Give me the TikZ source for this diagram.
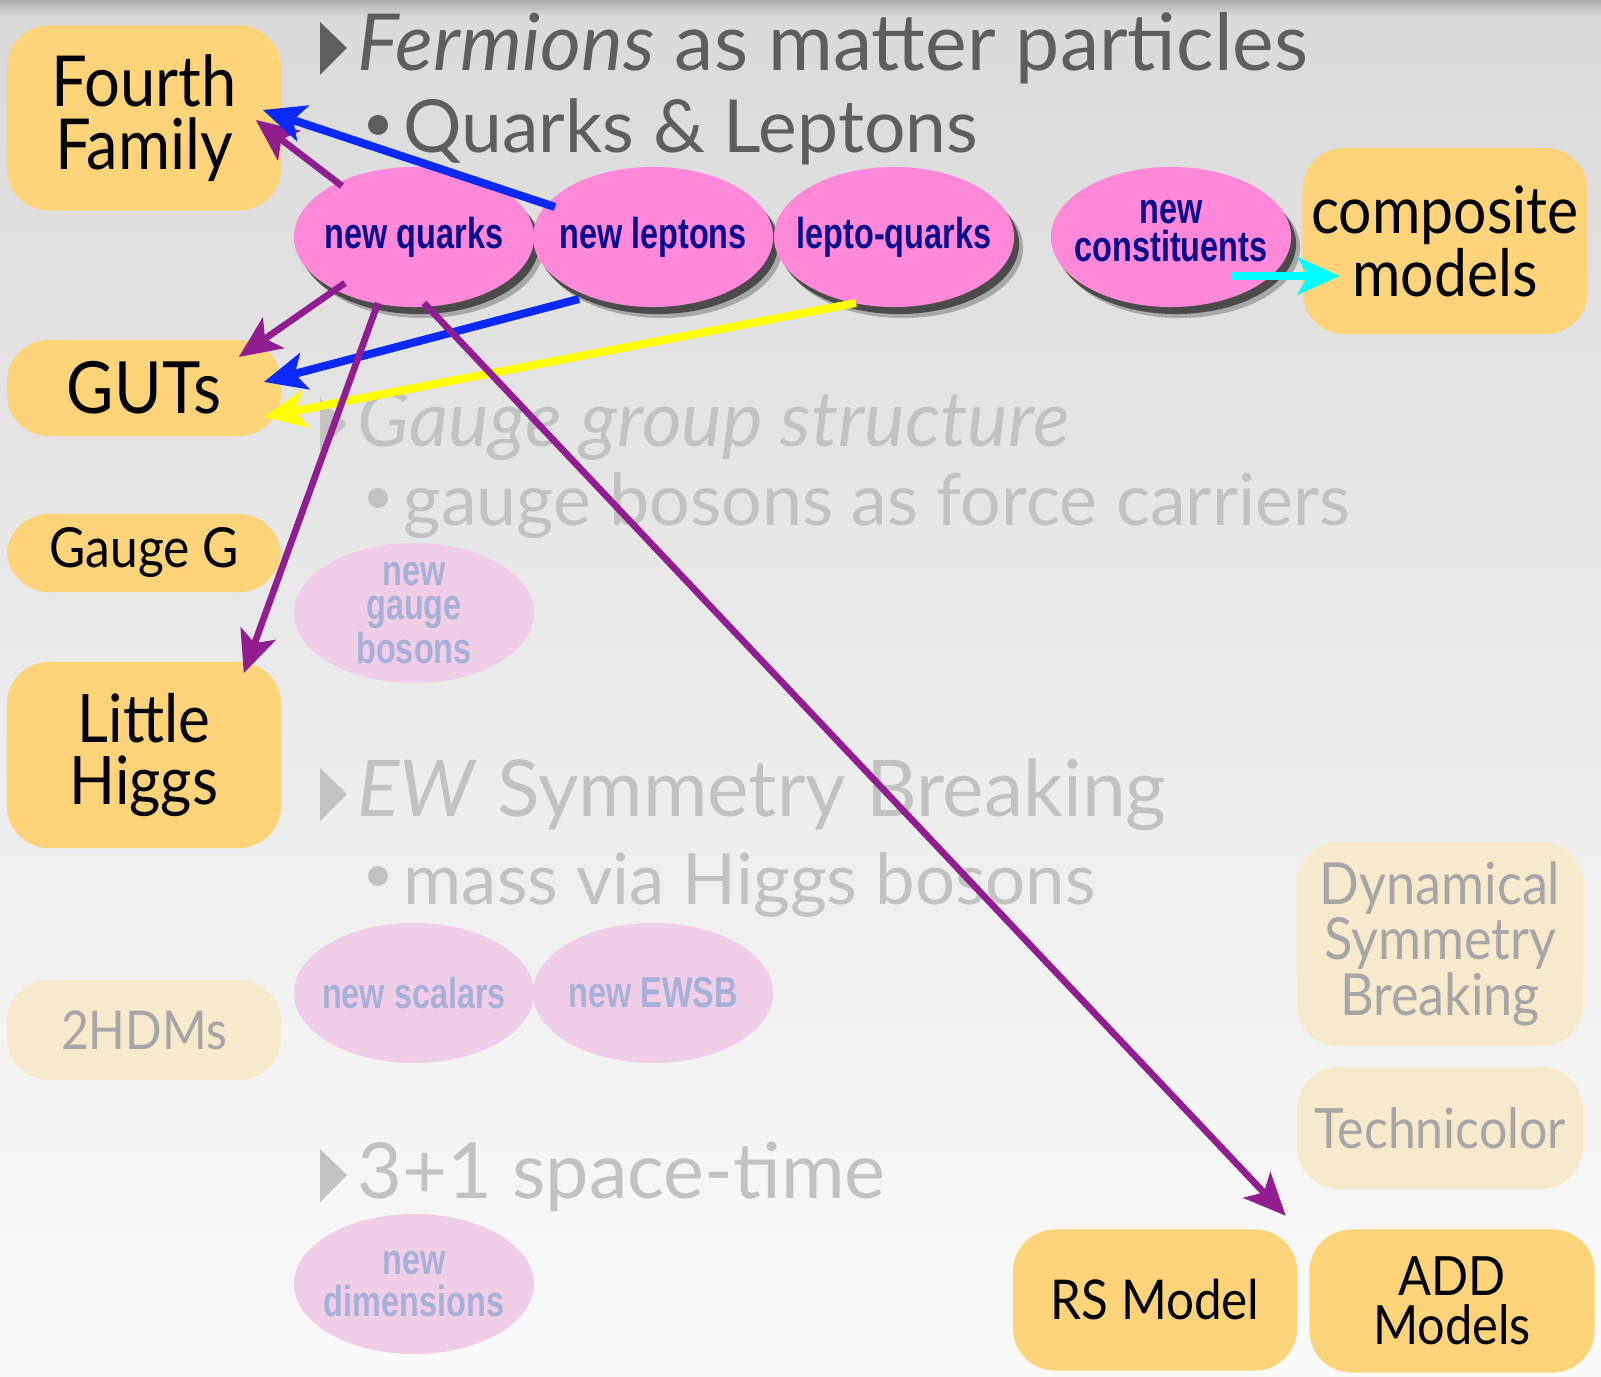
\documentclass[tikz,border=0pt]{standalone}
\usepackage{fontspec}
\setmainfont{Lato}
\newfontfamily\boxfont[FakeStretch=0.9]{Lato}
\newfontfamily\narrowfont[FakeStretch=0.75]{Liberation Sans}
\usetikzlibrary{arrows.meta,shadows,shapes.geometric}

\definecolor{boxfill}{RGB}{254,212,122}
\definecolor{boxpale}{RGB}{246,233,204}
\definecolor{pinkfill}{RGB}{255,136,216}
\definecolor{pinkpale}{RGB}{241,206,231}
\definecolor{navytext}{RGB}{10,10,140}
\definecolor{navypale}{RGB}{168,176,216}
\definecolor{headgray}{RGB}{94,94,94}
\definecolor{palegray}{RGB}{194,194,194}
\definecolor{boxtextpale}{RGB}{166,166,166}
\definecolor{violetline}{RGB}{145,30,145}
\definecolor{blueline}{RGB}{10,40,255}
\definecolor{yellowline}{RGB}{255,255,0}
\definecolor{cyanline}{RGB}{0,255,255}
\definecolor{bgtop}{RGB}{218,218,218}
\definecolor{bgbottom}{RGB}{251,251,251}

\begin{document}
\begin{tikzpicture}[x=0.01cm,y=-0.01cm,
    model/.style={rectangle,rounded corners=0.42cm,fill=boxfill,align=center,
      inner sep=0pt,minimum width=2.74cm,text=black},
    faded model/.style={model,fill=boxpale,text=boxtextpale},
    blob/.style={ellipse,minimum width=2.4cm,minimum height=1.4cm,inner sep=0pt},
    particle/.style={blob,fill=pinkfill,
      general shadow={shadow xshift=0.09cm,shadow yshift=-0.11cm,fill=black,opacity=0.25},
      general shadow={shadow xshift=0.05cm,shadow yshift=-0.07cm,fill=black,opacity=0.55}},
    faded particle/.style={blob,fill=pinkpale},
    blob text/.style={inner sep=0pt,align=center,
      font=\narrowfont\bfseries\fontsize{12.3}{10.8}\selectfont},
    particle text/.style={blob text,text=navytext},
    faded text/.style={blob text,text=navypale},
    headline/.style={anchor=base west,inner sep=0pt},
    link/.style={line width=2.3pt,-{Stealth[length=0.42cm,width=0.37cm,inset=0.1cm]}},
    thin link/.style={link,line width=1.9pt}]

  \useasboundingbox (0,0) rectangle (1601,1377);
  \shade[top color=bgtop,bottom color=bgbottom] (0,0) rectangle (1601,1377);
  \shade[top color=gray!65,bottom color=bgtop] (0,0) rectangle (1601,16);

  % outline of the talk
  \node[headline,text=headgray,font=\fontsize{22.4}{25}\selectfont] (fermions) at (357,71) {\textit{Fermions} as matter particles};
  \node[headline,text=headgray,font=\fontsize{20.8}{25}\selectfont] (quarks) at (403,153) {Quarks \& Leptons};
  \node[headline,text=palegray,font=\fontsize{21.8}{25}\selectfont] (gauge) at (357,447) {\textit{Gauge group structure}};
  \node[headline,text=palegray,font=\fontsize{20.4}{25}\selectfont] (bosons) at (403,526) {gauge bosons as force carriers};
  \node[headline,text=palegray,font=\fontsize{22.3}{25}\selectfont] (ewsb) at (357,817) {\textit{EW} Symmetry Breaking};
  \node[headline,text=palegray,font=\fontsize{20.1}{25}\selectfont] (mass) at (403,904) {mass via Higgs bosons};
  \node[headline,text=palegray,font=\fontsize{22}{25}\selectfont] (spacetime) at (357,1198) {3+1 space-time};

  \fill[headgray] (320,22) -- (347,48) -- (320,75) -- cycle;
  \foreach \yb in {447,817,1198}
    \fill[palegray] (320,\yb-49) -- (347,\yb-23) -- (320,\yb+4) -- cycle;
  \fill[headgray] (378,125) circle (10);
  \foreach \yb in {498,876}
    \fill[palegray] (378,\yb) circle (10);

  % models
  \node[model,minimum height=1.85cm,font=\boxfont\fontsize{20}{18}\selectfont] (ff) at (144,118) {Fourth\\Family};
  \node[model,minimum height=0.96cm,font=\boxfont\fontsize{20.5}{18}\selectfont] (guts) at (144,388) {GUTs};
  \node[model,minimum height=0.78cm,font=\boxfont\fontsize{15.7}{15}\selectfont] (gg) at (144,553) {Gauge G};
  \node[model,minimum height=1.86cm,font=\boxfont\fontsize{19}{17.5}\selectfont] (lh) at (144,755) {Little\\Higgs};
  \node[faded model,minimum height=1.0cm,font=\boxfont\fontsize{15.2}{15}\selectfont] (hdm) at (144,1030) {2HDMs};
  \node[model,minimum width=2.85cm,minimum height=1.86cm,font=\boxfont\fontsize{18.6}{16.5}\selectfont] (comp) at (1445,241) {composite\\models};
  \node[faded model,minimum width=2.86cm,minimum height=2.04cm,font=\boxfont\fontsize{16.5}{14}\selectfont] (dsb) at (1440,944) {Dynamical\\Symmetry\\Breaking};
  \node[faded model,minimum width=2.86cm,minimum height=1.22cm,font=\boxfont\fontsize{15.8}{16}\selectfont] (tc) at (1440,1128) {Technicolor};
  \node[model,minimum width=2.84cm,minimum height=1.41cm,font=\boxfont\fontsize{15.6}{14}\selectfont] (rs) at (1155,1300) {RS Model};
  \node[model,minimum width=2.85cm,minimum height=1.43cm,font=\boxfont\fontsize{15.4}{14}\selectfont] (add) at (1452,1301) {ADD\\Models};

  % new particles
  \node[particle,label={[particle text]center:new quarks}] (nq) at (414,237) {};
  \node[particle,label={[particle text]center:new leptons}] (nl) at (653,237) {};
  \node[particle,label={[particle text]center:lepto-quarks}] (lq) at (894,237) {};
  \node[particle,label={[particle text,yshift=0.06cm]center:new\\constituents}] (nc) at (1171,237) {};
  \node[faded particle,label={[faded text,font=\narrowfont\bfseries\fontsize{12.3}{9.8}\selectfont]center:new\\gauge\\bosons}] (ngb) at (414,613) {};
  \node[faded particle,label={[faded text]center:new scalars}] (ns) at (414,993) {};
  \node[faded particle,label={[faded text]center:new EWSB}] (ne) at (653,993) {};
  \node[faded particle,label={[faded text,font=\narrowfont\bfseries\fontsize{12.3}{12}\selectfont]center:new\\dimensions}] (nd) at (414,1284) {};

  % links
  \draw[thin link,violetline] ([shift={(-72,-51)}]nq.center) -- ([shift={(-26,2)}]ff.east);
  \draw[link,blueline] ([shift={(-98,-30)}]nl.center) -- ([shift={(-19,-8)}]ff.east);
  \draw[thin link,violetline] ([shift={(-69,46)}]nq.center) -- ([shift={(-43,-31)}]guts.east);
  \draw[link,blueline] ([shift={(-74,62)}]nl.center) -- ([shift={(-18,-6)}]guts.east);
  \draw[link,yellowline] ([shift={(-38,66)}]lq.center) -- ([shift={(-18,29)}]guts.east);
  \draw[thin link,violetline] ([shift={(-36,66)}]nq.center) -- ([shift={(-38,12)}]lh.north east);
  \draw[thin link,violetline] ([shift={(10,66)}]nq.center) -- ([shift={(-12,-13)}]rs.north east);
  \draw[link,cyanline] ([shift={(61,39)}]nc.center) -- ([shift={(38,35)}]comp.west);
\end{tikzpicture}
\end{document}
